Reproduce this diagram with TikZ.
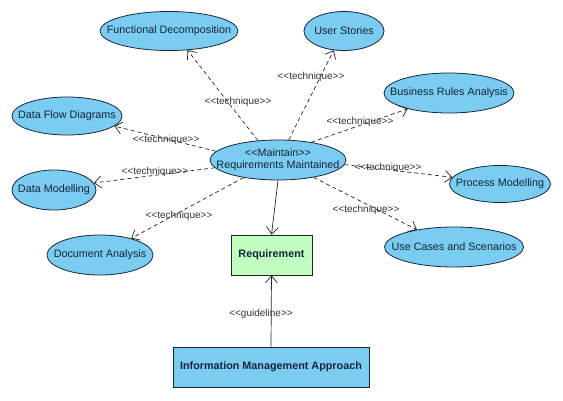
\documentclass[tikz,border=0pt]{standalone}
\usepackage{fontspec}
\setmainfont{Liberation Sans}
\usepackage{tikz}
\usetikzlibrary{
  arrows.meta,
  shapes.geometric,
}
\definecolor{ucfill}{HTML}{7ACDF0}
\definecolor{reqfill}{HTML}{C1FFC1}
\definecolor{ucline}{HTML}{17263A}
\definecolor{uctext}{HTML}{14233A}
\definecolor{stereo}{HTML}{333333}
\newcommand{\zw}[1]{\makebox[0pt]{#1}}
\newcommand{\stereoname}[1]{<{}<#1>{}>}
\tikzset{
  usecase/.style 2 args={
    ellipse, draw=ucline, line width=0.8pt, fill=ucfill,
    minimum width=#1, minimum height=#2, inner sep=0pt,
    text=uctext, font=\fontsize{10.8}{12.5}\selectfont,
  },
  reqbox/.style={
    rectangle, draw=ucline, line width=0.8pt, fill=reqfill,
    minimum width=81pt, minimum height=40pt, inner sep=0pt,
    text=uctext, font=\fontsize{10.8}{12.5}\selectfont\bfseries,
  },
  approachbox/.style={
    reqbox, fill=ucfill, minimum width=196pt,
  },
  stereotype/.style={
    inner sep=0pt, text=stereo, font=\fontsize{10}{12}\selectfont,
  },
  arrowTech/.style={
    -{Straight Barb[length=7pt,width=12pt]}, line width=0.7pt,
    draw=black!85, dash pattern=on 4pt off 3pt,
  },
  arrowSolid/.style={
    -{Straight Barb[length=7pt,width=12pt]}, line width=0.7pt,
    draw=black!85,
  },
}

\begin{document}
\begin{tikzpicture}[x=1pt, y=-1pt]

\useasboundingbox (0,0) rectangle (563,400);

% use cases
\node[usecase={136pt}{40pt}] (mr) at (278,160)
  {\zw{\begin{tabular}{@{}c@{}}\stereoname{Maintain}\\[-1pt]Requirements Maintained\end{tabular}}};
\node[usecase={138pt}{39pt}] (fd)  at (169,31)  {\zw{Functional Decomposition}};
\node[usecase={80pt}{39pt}]  (us)  at (344,31)  {\zw{User Stories}};
\node[usecase={130pt}{40pt}] (bra) at (449,93)  {\zw{Business Rules Analysis}};
\node[usecase={110pt}{38pt}] (dfd) at (67,116)  {\zw{Data Flow Diagrams}};
\node[usecase={84pt}{40pt}]  (dm)  at (54,190)  {\zw{Data Modelling}};
\node[usecase={101pt}{37pt}] (pm)  at (500,184) {\zw{Process Modelling}};
\node[usecase={106pt}{40pt}] (da)  at (100,255) {\zw{Document Analysis}};
\node[usecase={139pt}{40pt}] (uc)  at (454,247) {\zw{Use Cases and Scenarios}};

% boxes
\node[reqbox] (req) at (271.5,255) {Requirement};
\node[approachbox] (ima) at (271,367) {Information Management Approach};

% technique links: target / start angle / end angle / label position
\foreach \n/\sa/\ea/\lx/\ly in {
  fd/136/314/238/102,
  us/62/242/311/77,
  bra/28/201/360/122,
  dfd/172/348/166/140,
  dm/187/10/155/172,
  da/207/28/179/216,
  pm/356/172/388/168,
  uc/334/155/366/210}
{
  \draw[arrowTech] (mr.\sa) -- (\n.\ea);
  \node[stereotype] (lbl-\n) at (\lx,\ly) {\stereoname{technique}};
}

\draw[arrowSolid] (mr.south) -- (req.north);
\draw[arrowSolid] (ima.north) -- (req.south);
\node[stereotype] (lbl-guide) at (261,314) {\stereoname{guideline}};

\end{tikzpicture}
\end{document}
